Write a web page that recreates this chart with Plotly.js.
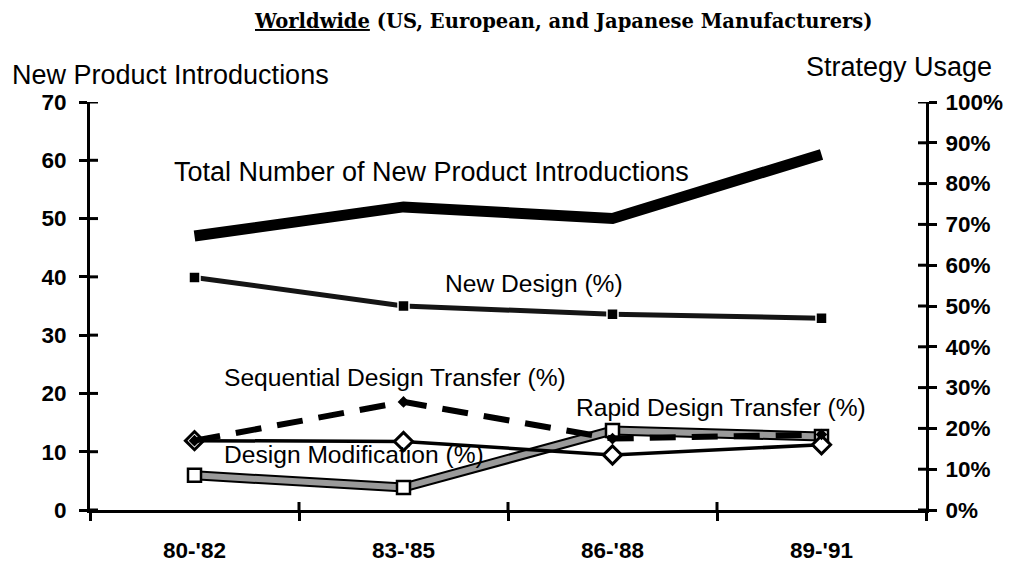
<!DOCTYPE html>
<html><head><meta charset="utf-8">
<script src="https://cdn.plot.ly/plotly-3.0.1.min.js"></script>
<style>html,body{margin:0;padding:0;background:#fff}#c{width:1010px;height:562px}</style>
</head><body><div id="c"></div>
<script>
const periods = ["80-'82", "83-'85", "86-'88", "89-'91"];
const totalIntroductions = [47, 52, 50, 61];
const newDesignPct = [0.57, 0.50, 0.48, 0.47];
const sequentialPct = [0.17, 0.265, 0.175, 0.185];
const designModPct = [0.17, 0.168, 0.135, 0.16];
const rapidPct = [0.085, 0.055, 0.195, 0.18];
const leftTicks = [0, 10, 20, 30, 40, 50, 60, 70];
const rightTicks = [0, 0.1, 0.2, 0.3, 0.4, 0.5, 0.6, 0.7, 0.8, 0.9, 1.0];

const sans = "Liberation Sans, Arial, sans-serif";
const traces = [
  {x: periods, y: rapidPct, yaxis: 'y2', mode: 'lines', line: {color: '#000', width: 10}, hoverinfo: 'skip'},
  {x: periods, y: rapidPct, yaxis: 'y2', mode: 'lines+markers', line: {color: '#9a9a9a', width: 6},
   marker: {symbol: 'square', size: 13, color: '#fff', line: {color: '#000', width: 2.5}}},
  {x: periods, y: designModPct, yaxis: 'y2', mode: 'lines+markers', line: {color: '#000', width: 3.5},
   marker: {symbol: 'diamond', size: 14, color: '#fff', line: {color: '#000', width: 3}}},
  {x: periods, y: sequentialPct, yaxis: 'y2', mode: 'lines+markers', line: {color: '#000', width: 6, dash: '26px,16px'},
   marker: {symbol: 'diamond', size: 9, color: '#000'}},
  {x: periods, y: newDesignPct, yaxis: 'y2', mode: 'lines+markers', line: {color: '#151515', width: 5},
   marker: {symbol: 'square', size: 11, color: '#000', line: {color: '#fff', width: 1.5}}},
  {x: periods, y: totalIntroductions, yaxis: 'y', mode: 'lines', line: {color: '#000', width: 11}}
];

// inner half of the crossing tick marks (outer half is drawn by the axes)
const W = 836, H = 408, TL = 8;
const tickLine = {color: '#000', width: 3};
const innerTicks = [];
leftTicks.forEach(v => innerTicks.push({type: 'line', xref: 'paper', yref: 'y', x0: 0, x1: TL / W, y0: v, y1: v, line: tickLine}));
rightTicks.forEach(v => innerTicks.push({type: 'line', xref: 'paper', yref: 'y2', x0: 1 - TL / W, x1: 1, y0: v, y1: v, line: tickLine}));
periods.slice(1).forEach((p, i) => innerTicks.push({type: 'line', xref: 'x', yref: 'paper', x0: i + 0.5, x1: i + 0.5, y0: 0, y1: TL / H, line: tickLine}));

const tickFont = {family: sans, size: 22.5, color: '#000', weight: 'bold'};
const lab = (text, px, py, size, extra) => Object.assign({text, xref: 'paper', yref: 'paper',
  x: (px - 90) / W, y: (510 - py) / H, xanchor: 'center', yanchor: 'middle', showarrow: false,
  font: {family: sans, size, color: '#000'}}, extra || {});
const layout = {
  width: 1010, height: 562,
  margin: {l: 90, r: 84, t: 102, b: 52},
  paper_bgcolor: '#fff', plot_bgcolor: '#fff',
  showlegend: false,
  xaxis: {type: 'category', categoryarray: periods, range: [-0.5, 3.5], tickson: 'boundaries',
    ticks: 'outside', ticklen: TL, tickwidth: 3, tickcolor: '#000', showline: true, linewidth: 3, linecolor: '#000',
    showgrid: false, zeroline: false, tickfont: tickFont, ticklabelstandoff: 18},
  yaxis: {range: [0, 70], tickvals: leftTicks, ticks: 'outside', ticklen: TL, tickwidth: 3, tickcolor: '#000',
    showline: true, linewidth: 3, linecolor: '#000', showgrid: false, zeroline: false, tickfont: tickFont, ticklabelstandoff: 8},
  yaxis2: {overlaying: 'y', side: 'right', anchor: 'x', range: [0, 1], tickvals: rightTicks, tickformat: '.0%',
    ticks: 'outside', ticklen: TL, tickwidth: 3, tickcolor: '#000', showline: true, linewidth: 3, linecolor: '#000',
    showgrid: false, zeroline: false, tickfont: tickFont, ticklabelstandoff: 4},
  shapes: innerTicks,
  annotations: [
    lab('<u>Worldwide</u> (US, European, and Japanese Manufacturers)', 563, 21, 19.5,
        {font: {family: 'DejaVu Serif, serif', size: 19.5, color: '#000', weight: 'bold'}}),
    lab('New Product Introductions', 10, 75, 27, {xanchor: 'left'}),
    lab('Strategy Usage', 899, 67, 27),
    lab('Total Number of New Product Introductions', 431, 172, 27),
    lab('New Design (%)', 534, 283, 24.6),
    lab('Sequential Design Transfer (%)', 395, 377, 24.6),
    lab('Rapid Design Transfer (%)', 721, 407, 24.6),
    lab('Design Modification (%)', 354, 454, 24.6)
  ]
};
Plotly.newPlot('c', traces, layout, {staticPlot: true});
</script></body></html>
